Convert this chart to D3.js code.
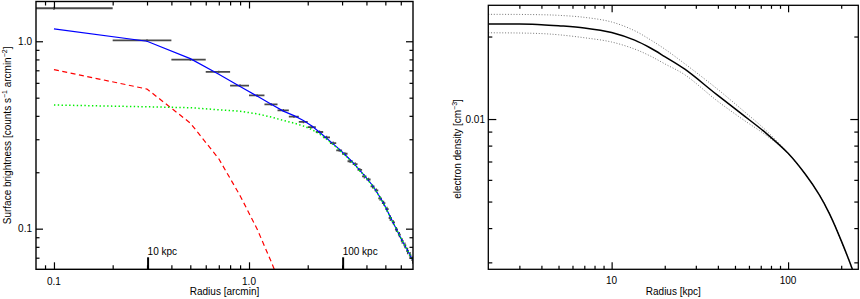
<!DOCTYPE html>
<html><head><meta charset="utf-8">
<script src="https://cdn.jsdelivr.net/npm/d3@7"></script>
<style>body{margin:0;background:#fff}svg{display:block}</style>
</head><body>
<script>
// ---------- Left panel data (surface brightness profile) ----------
const binCenters = [0.1,0.3,0.5,0.7,0.9,1.1,1.3,1.5,1.7,1.9,2.1,2.3,2.5,2.7,2.9,3.1,3.3,3.5,3.7,3.9,4.1,4.3,4.5,4.7,4.9,5.1,5.3,5.5,5.7,5.9,6.1,6.3,6.5,6.7,6.9];
const binHalfWidth = 0.1;
const sbData = [1.50,1.01,0.798,0.686,0.58,0.514,0.46,0.428,0.396,0.371,0.348,0.328,0.307,0.286,0.262,0.251,0.229,0.221,0.206,0.190,0.183,0.168,0.160,0.145,0.137,0.127,0.114,0.108,0.099,0.093,0.086,0.0815,0.076,0.072,0.068];
const sbErr = [0.03,0.015,0.012,0.01,0.009,0.008,0.007,0.007,0.006,0.006,0.006,0.006,0.006,0.006,0.005,0.005,0.005,0.005,0.005,0.005,0.004,0.004,0.004,0.004,0.004,0.004,0.004,0.003,0.003,0.003,0.003,0.003,0.003,0.003,0.003];
const modelTotal = [1.165,1.0,0.808,0.667,0.573,0.51,0.461,0.424,0.401,0.378,0.3527,0.327,0.304,0.2836,0.2659,0.2486,0.2331,0.2188,0.2049,0.1924,0.1806,0.170,0.158,0.1466,0.1364,0.1253,0.1156,0.107,0.0993,0.0923,0.0862,0.081,0.0764,0.0721,0.0682];
const coreRadii = [0.1,0.3,0.5,0.7,0.9,1.1,1.3,1.5,1.7,1.9,2.1];
const modelCore = [0.706,0.556,0.366,0.236,0.150,0.0996,0.0666,0.046,0.030,0.019,0.012];
const modelExtended = [0.457,0.447,0.442,0.431,0.423,0.410,0.394,0.378,0.366,0.353,0.338,0.320,0.300,0.281,0.263,0.247,0.232,0.218,0.204,0.192,0.180,0.169,0.158,0.1465,0.1363,0.1252,0.1155,0.107,0.0993,0.0923,0.0862,0.081,0.0764,0.0721,0.0682];
const kpcLabels = ["10 kpc","100 kpc"];
const kpcArcmin = [0.302,3.02];
const leftXTickLabels = ["0.1","1.0"];
const leftXTickValues = [0.1,1.0];
const leftYTickLabels = ["0.1","1.0"];
const leftYTickValues = [0.1,1.0];

// ---------- Right panel data (electron density) ----------
const radiusKpc = [2,3,4,5,7,10,13.5,16.5,20,26,39.3,55,75.5,100,125,150,172,200,235,250];
const neBest  = [0.02223,0.0222,0.0221,0.0219,0.0215,0.0207,0.0194,0.0182,0.0169,0.0152,0.0123,0.0104,0.00885,0.0075,0.0063,0.0053,0.0045,0.0036,0.00275,0.0024];
const neUpper = [0.0241,0.02408,0.02402,0.0239,0.0235,0.0226,0.0210,0.0195,0.0180,0.0159,0.01294,0.0108,0.00905,0.0075,0.0063,0.0053,0.0045,0.0036,0.00275,0.0024];
const neLower = [0.02064,0.0206,0.0205,0.0203,0.0198,0.0191,0.0180,0.0170,0.0159,0.0145,0.0117,0.0100,0.0087,0.0075,0.0063,0.0053,0.0045,0.0036,0.00275,0.0024];
const rightXTickLabels = ["10","100"];
const rightXTickValues = [10,100];
const rightYTickLabels = ["0.01"];
const rightYTickValues = [0.01];

// ---------- Drawing ----------
const W = 860, H = 299;
const FONT = "'Liberation Sans', Arial, Helvetica, sans-serif";
const svg = d3.select("body").append("svg").attr("width", W).attr("height", H)
  .style("font-family", FONT).style("font-size", "10px");

function range(a, b, step) { const r = []; for (let v = a; v <= b + 1e-9; v += step) r.push(+v.toFixed(6)); return r; }

function drawTicks(g, axisFn, scale, values, size, sw) {
  g.call(axisFn(scale).tickValues(values).tickSize(size).tickFormat(""));
  g.select(".domain").remove();
  g.selectAll("line").attr("stroke", "#000").attr("stroke-width", sw || 1.2);
}

// ===== Left panel =====
const L = {x0: 36, x1: 413, y0: 1.5, y1: 269.3};
const xL = d3.scaleLog().domain([0.0809, 6.93]).range([L.x0, L.x1]);
const yL = d3.scaleLog().domain([0.0607, 1.63]).range([L.y1, L.y0]);

const defs = svg.append("defs");
defs.append("clipPath").attr("id", "clipL").append("rect")
  .attr("x", L.x0).attr("y", L.y0).attr("width", L.x1 - L.x0).attr("height", L.y1 - L.y0);
defs.append("clipPath").attr("id", "clipR").append("rect")
  .attr("x", 488.3).attr("y", 5.3).attr("width", 370).attr("height", 264);

const gL = svg.append("g");
const plotL = gL.append("g").attr("clip-path", "url(#clipL)");

// data bars
const barG = plotL.append("g").attr("stroke", "#4a4a4a").attr("stroke-width", 1.8);
barG.selectAll("line.h").data(binCenters).join("line").attr("class", "h")
  .attr("x1", (d) => xL(Math.max(d - binHalfWidth, 0.01)))
  .attr("x2", (d) => xL(d + binHalfWidth))
  .attr("y1", (d, i) => yL(sbData[i])).attr("y2", (d, i) => yL(sbData[i]));
barG.selectAll("line.v").data(binCenters).join("line").attr("class", "v")
  .attr("stroke-width", 1.2)
  .attr("x1", (d) => xL(d)).attr("x2", (d) => xL(d))
  .attr("y1", (d, i) => yL(sbData[i] + sbErr[i])).attr("y2", (d, i) => yL(sbData[i] - sbErr[i]));

const lineL = d3.line().x((d) => xL(d[0])).y((d) => yL(d[1]));
plotL.append("path").datum(coreRadii.map((r, i) => [r, modelCore[i]]))
  .attr("d", lineL).attr("fill", "none").attr("stroke", "#ff0000").attr("stroke-width", 1.2)
  .attr("stroke-dasharray", "5,3.5");
plotL.append("path").datum(binCenters.map((r, i) => [r, modelTotal[i]]))
  .attr("d", lineL).attr("fill", "none").attr("stroke", "#0000ff").attr("stroke-width", 1.2);
plotL.append("path").datum(binCenters.map((r, i) => [r, modelExtended[i]]))
  .attr("d", lineL).attr("fill", "none").attr("stroke", "#00ee00").attr("stroke-width", 1.5)
  .attr("stroke-dasharray", "1.4,2.4");

// axes ticks
const lxMinor = [0.09, ...range(0.2, 0.9, 0.1), ...range(2, 6, 1)];
const lyMinor = [0.07, 0.08, 0.09, ...range(0.2, 0.9, 0.1)];
drawTicks(gL.append("g").attr("transform", `translate(0,${L.y1})`), d3.axisBottom, xL, leftXTickValues, -7);
drawTicks(gL.append("g").attr("transform", `translate(0,${L.y1})`), d3.axisBottom, xL, lxMinor, -4);
drawTicks(gL.append("g").attr("transform", `translate(0,${L.y0})`), d3.axisTop, xL, leftXTickValues, -7);
drawTicks(gL.append("g").attr("transform", `translate(0,${L.y0})`), d3.axisTop, xL, lxMinor, -4);
drawTicks(gL.append("g").attr("transform", `translate(${L.x0},0)`), d3.axisLeft, yL, leftYTickValues, -7);
drawTicks(gL.append("g").attr("transform", `translate(${L.x0},0)`), d3.axisLeft, yL, lyMinor, -3.5);
drawTicks(gL.append("g").attr("transform", `translate(${L.x1},0)`), d3.axisRight, yL, leftYTickValues, -7);
drawTicks(gL.append("g").attr("transform", `translate(${L.x1},0)`), d3.axisRight, yL, lyMinor, -3.5);
// kpc markers
drawTicks(gL.append("g").attr("transform", `translate(0,${L.y1})`), d3.axisBottom, xL, kpcArcmin, -12, 2);
gL.selectAll("text.kpc").data(kpcArcmin).join("text").attr("class", "kpc")
  .attr("x", (d) => xL(d)).attr("y", 255).text((d, i) => kpcLabels[i]);

gL.append("rect").attr("x", L.x0).attr("y", L.y0).attr("width", L.x1 - L.x0).attr("height", L.y1 - L.y0)
  .attr("fill", "none").attr("stroke", "#000").attr("stroke-width", 1.4);

gL.selectAll("text.xl").data(leftXTickValues).join("text").attr("class", "xl")
  .attr("x", (d) => xL(d)).attr("y", 285).attr("text-anchor", "middle").text((d, i) => leftXTickLabels[i]);
gL.selectAll("text.yl").data(leftYTickValues).join("text").attr("class", "yl")
  .attr("x", 32).attr("y", (d) => yL(d) + 3.6).attr("text-anchor", "end").text((d, i) => leftYTickLabels[i]);
gL.append("text").attr("x", (L.x0 + L.x1) / 2).attr("y", 295).attr("text-anchor", "middle").text("Radius [arcmin]");
const ylab = gL.append("text").attr("transform", `translate(10.5,${(L.y0 + L.y1) / 2}) rotate(-90)`).attr("text-anchor", "middle");
ylab.append("tspan").text("Surface brightness [counts s");
ylab.append("tspan").attr("dy", -4).style("font-size", "7px").text("−1");
ylab.append("tspan").attr("dy", 4).text(" arcmin");
ylab.append("tspan").attr("dy", -4).style("font-size", "7px").text("−2");
ylab.append("tspan").attr("dy", 4).text("]");

// ===== Right panel =====
const R = {x0: 488.3, x1: 858.3, y0: 5.3, y1: 269.3};
const xR = d3.scaleLog().domain([2, 250]).range([R.x0, R.x1]);
const yR = d3.scaleLog().domain([0.00283, 0.026]).range([R.y1, R.y0]);
const gR = svg.append("g");
const plotR = gR.append("g").attr("clip-path", "url(#clipR)");
const lineR = d3.line().x((d) => xR(d[0])).y((d) => yR(d[1])).curve(d3.curveCatmullRom.alpha(0.5));
[neUpper, neLower].forEach((arr) => {
  plotR.append("path").datum(radiusKpc.map((r, i) => [r, arr[i]])).attr("d", lineR)
    .attr("fill", "none").attr("stroke", "#777").attr("stroke-width", 1).attr("stroke-dasharray", "1,1.8");
});
plotR.append("path").datum(radiusKpc.map((r, i) => [r, neBest[i]])).attr("d", lineR)
  .attr("fill", "none").attr("stroke", "#000").attr("stroke-width", 1.5);

const rxMinor = [...range(3, 9, 1), ...range(20, 90, 10), 200];
const ryMinor = [...range(0.003, 0.009, 0.001), 0.02];
drawTicks(gR.append("g").attr("transform", `translate(0,${R.y1})`), d3.axisBottom, xR, rightXTickValues, -7);
drawTicks(gR.append("g").attr("transform", `translate(0,${R.y1})`), d3.axisBottom, xR, rxMinor, -3.5);
drawTicks(gR.append("g").attr("transform", `translate(0,${R.y0})`), d3.axisTop, xR, rightXTickValues, -7);
drawTicks(gR.append("g").attr("transform", `translate(0,${R.y0})`), d3.axisTop, xR, rxMinor, -3.5);
drawTicks(gR.append("g").attr("transform", `translate(${R.x0},0)`), d3.axisLeft, yR, rightYTickValues, -8);
drawTicks(gR.append("g").attr("transform", `translate(${R.x0},0)`), d3.axisLeft, yR, ryMinor, -4);
drawTicks(gR.append("g").attr("transform", `translate(${R.x1},0)`), d3.axisRight, yR, rightYTickValues, -8);
drawTicks(gR.append("g").attr("transform", `translate(${R.x1},0)`), d3.axisRight, yR, ryMinor, -4);

gR.append("rect").attr("x", R.x0).attr("y", R.y0).attr("width", R.x1 - R.x0).attr("height", R.y1 - R.y0)
  .attr("fill", "none").attr("stroke", "#000").attr("stroke-width", 1.3);

gR.selectAll("text.xl").data(rightXTickValues).join("text").attr("class", "xl")
  .attr("x", (d) => xR(d)).attr("y", 283.5).attr("text-anchor", "middle").text((d, i) => rightXTickLabels[i]);
gR.selectAll("text.yl").data(rightYTickValues).join("text").attr("class", "yl")
  .attr("x", 485).attr("y", (d) => yR(d) + 3.6).attr("text-anchor", "end").text((d, i) => rightYTickLabels[i]);
gR.append("text").attr("x", (R.x0 + R.x1) / 2).attr("y", 295).attr("text-anchor", "middle").text("Radius [kpc]");
const ylab2 = gR.append("text").attr("transform", `translate(460.5,149) rotate(-90)`).attr("text-anchor", "middle");
ylab2.append("tspan").text("electron density [cm");
ylab2.append("tspan").attr("dy", -4).style("font-size", "7px").text("−3");
ylab2.append("tspan").attr("dy", 4).text("]");
</script>
</body></html>
